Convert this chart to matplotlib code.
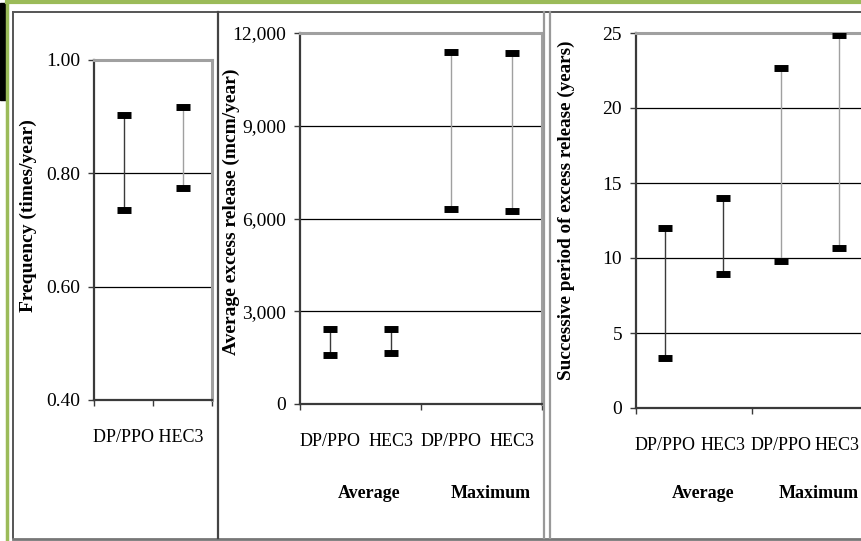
import matplotlib
matplotlib.use("Agg")
import matplotlib.pyplot as plt
import matplotlib.transforms as mtransforms
from matplotlib.lines import Line2D
from matplotlib.patches import Rectangle

# ---- data ----
cats = ["DP/PPO", "HEC3"]
groups = ["Average", "Maximum"]

freq_low = [0.736, 0.774]
freq_high = [0.903, 0.917]

release_low = [1580, 1640, 6300, 6240]
release_high = [2440, 2440, 11400, 11340]

period_low = [3.36, 8.92, 9.77, 10.65]
period_high = [12.03, 14.0, 22.7, 24.88]

plt.rcParams['font.family'] = ['Liberation Serif', 'DejaVu Serif']

W, H = 861, 541
fig = plt.figure(figsize=(W / 100, H / 100), dpi=100)


def px_rect(left, top, right, bottom):
    return [left / W, 1 - bottom / H, (right - left) / W, (bottom - top) / H]


DARK = '#3a3a3a'
GRAY = '#a0a0a0'


def style_axes(ax):
    ax.set_facecolor('none')
    for side in ['left', 'bottom']:
        ax.spines[side].set_color(DARK)
        ax.spines[side].set_linewidth(1.6)
    for side in ['top', 'right']:
        ax.spines[side].set_color(GRAY)
        ax.spines[side].set_linewidth(2.2)
    ax.yaxis.grid(True, color='black', linewidth=0.9)
    ax.set_axisbelow(True)
    ax.tick_params(axis='y', direction='out', length=4, width=1, color=DARK,
                   labelsize=14, pad=6)
    ax.tick_params(axis='x', which='major', direction='out', length=4, width=1,
                   color=DARK, labelbottom=False)
    ax.tick_params(axis='x', which='minor', length=0, labelsize=13, pad=21)


def draw_ranges(ax, low, high, line_colors):
    xs = list(range(1, len(low) + 1))
    ax.vlines(xs, low, high, colors=line_colors, linewidth=1.0, zorder=3)
    ax.plot(xs, low, linestyle='none', marker='_', markersize=9.5,
            markeredgewidth=5, color='black', zorder=4)
    ax.plot(xs, high, linestyle='none', marker='_', markersize=9.5,
            markeredgewidth=5, color='black', zorder=4)


# ---- panel 1: frequency ----
ax1 = fig.add_axes(px_rect(94, 60, 212, 400))
style_axes(ax1)
draw_ranges(ax1, freq_low, freq_high, [DARK, GRAY])
ax1.set_xlim(0.5, 2.5)
ax1.set_ylim(0.4, 1.0)
ax1.set_yticks([0.4, 0.6, 0.8, 1.0])
ax1.set_yticklabels(['%.2f' % v for v in [0.4, 0.6, 0.8, 1.0]])
ax1.set_xticks([0.5, 1.5, 2.5])
ax1.set_xticks([1.42], [" ".join(cats)], minor=True)

# ---- panel 2: average excess release ----
ax2 = fig.add_axes(px_rect(300, 33, 542, 404))
style_axes(ax2)
draw_ranges(ax2, release_low, release_high, [DARK, DARK, GRAY, GRAY])
ax2.set_xlim(0.5, 4.5)
ax2.set_ylim(0, 12000)
ax2.set_yticks([0, 3000, 6000, 9000, 12000])
ax2.set_yticklabels(['0', '3,000', '6,000', '9,000', '12,000'])
ax2.set_xticks([0.5, 2.5, 4.5])
ax2.set_xticks([1, 2, 3, 4], cats * 2, minor=True)

# ---- panel 3: successive period ----
ax3 = fig.add_axes(px_rect(636, 33, 868, 408))
style_axes(ax3)
draw_ranges(ax3, period_low, period_high, [DARK, DARK, GRAY, GRAY])
ax3.set_xlim(0.5, 4.5)
ax3.set_ylim(0, 25)
ax3.set_yticks([0, 5, 10, 15, 20, 25])
ax3.set_xticks([0.5, 2.5, 4.5])
# last label sits at the slide edge, so nudge it left a little
ax3.set_xticks([1, 2, 3, 3.96], cats * 2, minor=True)

# group labels under panels 2 and 3
for ax in [ax2, ax3]:
    tr = mtransforms.blended_transform_factory(ax.transData, fig.transFigure)
    for gx, name in zip([1.65, 3.65], groups):
        ax.text(gx, 1 - 493 / H, name, transform=tr, ha='center', va='center',
                fontsize=13, fontweight='bold')

# y axis titles
fig.text(28 / W, 1 - 216 / H, 'Frequency (times/year)', rotation=90,
         ha='center', va='center', fontsize=14, fontweight='bold')
fig.text(231 / W, 1 - 212 / H, 'Average excess release (mcm/year)', rotation=90,
         ha='center', va='center', fontsize=14, fontweight='bold')
fig.text(566 / W, 1 - 210 / H, 'Successive period of excess release (years)',
         rotation=90, ha='center', va='center', fontsize=13.8, fontweight='bold')

# slide frame
def fig_line(x0, y0, x1, y1, color, lw):
    fig.add_artist(Line2D([x0 / W, x1 / W], [1 - y0 / H, 1 - y1 / H],
                          color=color, linewidth=lw, transform=fig.transFigure))

fig_line(13, 12, 861, 12, '#555555', 1.4)
fig_line(13, 12, 13, 538, '#555555', 1.4)
fig_line(13, 538.5, 861, 538.5, '#777777', 2.0)
fig_line(218, 12, 218, 538, '#444444', 1.6)
fig_line(543.5, 12, 543.5, 538, '#999999', 1.6)
fig_line(550, 12, 550, 538, '#999999', 1.6)
fig_line(7, 1.5, 861, 1.5, '#9bbb59', 3.0)
fig_line(7, 0, 7, 541, '#9bbb59', 2.5)
fig.add_artist(Rectangle((0, 1 - 100 / H), 6 / W, 97 / H, color='black',
                         transform=fig.transFigure))

fig.savefig('out.png', dpi=100)
